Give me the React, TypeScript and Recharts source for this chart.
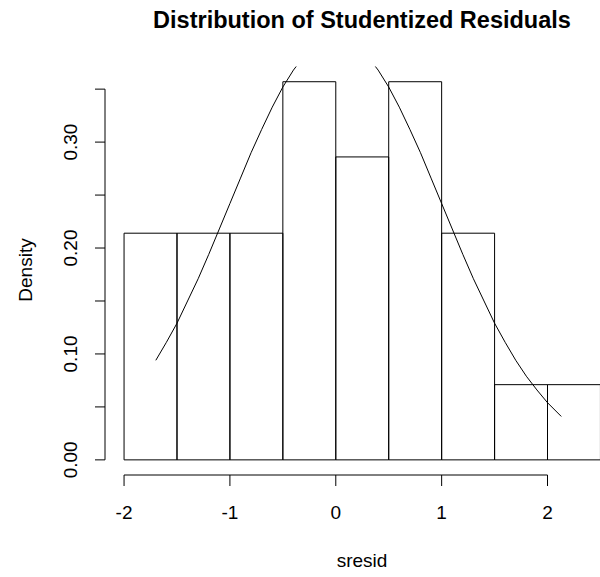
import React from 'react';
import { ComposedChart, Line, XAxis, YAxis, ReferenceArea, ReferenceLine } from 'recharts';

// Histogram bins (sresid) and density heights
const binStarts = [-2, -1.5, -1, -0.5, 0, 0.5, 1, 1.5, 2];
const binEnds = [-1.5, -1, -0.5, 0, 0.5, 1, 1.5, 2, 2.5];
const densities = [0.214, 0.214, 0.214, 0.357, 0.286, 0.357, 0.214, 0.071, 0.071];

// Density curve
const curveX = [-1.7, -1.6, -1.5, -1.4, -1.3, -1.2, -1.1, -1.0, -0.9, -0.8, -0.7, -0.6, -0.5, -0.4, -0.3, -0.2, -0.1, 0.0, 0.1, 0.2, 0.3, 0.4, 0.5, 0.6, 0.7, 0.8, 0.9, 1.0, 1.1, 1.2, 1.3, 1.4, 1.5, 1.6, 1.7, 1.8, 1.9, 2.0, 2.13];
const curveY = [0.094, 0.111, 0.129, 0.150, 0.171, 0.194, 0.218, 0.242, 0.266, 0.290, 0.312, 0.333, 0.352, 0.368, 0.381, 0.391, 0.397, 0.399, 0.397, 0.391, 0.381, 0.368, 0.352, 0.333, 0.312, 0.290, 0.266, 0.242, 0.218, 0.194, 0.171, 0.150, 0.129, 0.111, 0.094, 0.079, 0.066, 0.054, 0.041];

const xTicks = [-2, -1, 0, 1, 2];
const yTicks = [0, 0.05, 0.1, 0.15, 0.2, 0.25, 0.3, 0.35];
const yLabelTicks = [0, 0.1, 0.2, 0.3];

const xDomain: [number, number] = [-2.18, 2.68];
const yDomain: [number, number] = [-0.01428, 0.37128];

const title = 'Distribution of Studentized Residuals';
const xTitle = 'sresid';
const yTitle = 'Density';

const FONT = '"Liberation Sans", Arial, sans-serif';

const curveData = curveX.map((x, i) => ({ x, y: curveY[i] }));

const XTick = (props: any) => {
  const { x, y, payload } = props;
  return (
    <text x={x} y={y + 31} textAnchor="middle" fontFamily={FONT} fontSize={19} fill="#000">
      {String(payload.value)}
    </text>
  );
};

const YTick = (props: any) => {
  const { x, y, payload } = props;
  const v = payload.value;
  if (!yLabelTicks.some((t) => Math.abs(t - v) < 1e-9)) return <g />;
  const px = x - 16;
  return (
    <text
      x={px}
      y={y}
      transform={`rotate(-90, ${px}, ${y})`}
      textAnchor="middle"
      fontFamily={FONT}
      fontSize={19}
      fill="#000"
    >
      {v.toFixed(2)}
    </text>
  );
};

export default function App() {
  return (
    <div style={{ position: 'absolute', left: 0, top: 0, width: 600, height: 577, overflow: 'hidden', background: '#fff' }}>
      <ComposedChart
        width={640}
        height={577}
        data={curveData}
        margin={{ top: 66.6, right: 20.5, bottom: 0, left: 0 }}
      >
        <XAxis
          dataKey="x"
          type="number"
          domain={xDomain}
          ticks={xTicks}
          allowDataOverflow
          height={102}
          axisLine={false}
          tickLine={{ stroke: '#000', strokeWidth: 1 }}
          tickSize={11}
          tick={<XTick />}
          interval={0}
        />
        <YAxis
          type="number"
          domain={yDomain}
          ticks={yTicks}
          allowDataOverflow
          width={105}
          axisLine={false}
          tickLine={{ stroke: '#000', strokeWidth: 1 }}
          tickSize={10}
          tick={<YTick />}
          interval={0}
        />
        {binStarts.map((s, i) => (
          <ReferenceArea
            key={i}
            x1={s}
            x2={binEnds[i]}
            y1={0}
            y2={densities[i]}
            fill="none"
            fillOpacity={0}
            stroke="#000"
            strokeWidth={1}
            strokeOpacity={1}
            ifOverflow="visible"
          />
        ))}
        <ReferenceLine
          segment={[{ x: xTicks[0], y: yDomain[0] }, { x: xTicks[xTicks.length - 1], y: yDomain[0] }]}
          stroke="#000"
          strokeWidth={1}
          ifOverflow="visible"
        />
        <ReferenceLine
          segment={[{ x: xDomain[0], y: yTicks[0] }, { x: xDomain[0], y: yTicks[yTicks.length - 1] }]}
          stroke="#000"
          strokeWidth={1}
          ifOverflow="visible"
        />
        <Line
          type="linear"
          dataKey="y"
          stroke="#000"
          strokeWidth={1}
          dot={false}
          activeDot={false}
          isAnimationActive={false}
        />
      </ComposedChart>
      <svg width={600} height={577} style={{ position: 'absolute', left: 0, top: 0, pointerEvents: 'none' }}>
        <text x={362} y={28} textAnchor="middle" fontFamily={FONT} fontSize={23.5} fontWeight="bold" fill="#000">
          {title}
        </text>
        <text x={362} y={567} textAnchor="middle" fontFamily={FONT} fontSize={19} fill="#000">
          {xTitle}
        </text>
        <text x={32} y={270} transform="rotate(-90, 32, 270)" textAnchor="middle" fontFamily={FONT} fontSize={19} fill="#000">
          {yTitle}
        </text>
      </svg>
    </div>
  );
}
